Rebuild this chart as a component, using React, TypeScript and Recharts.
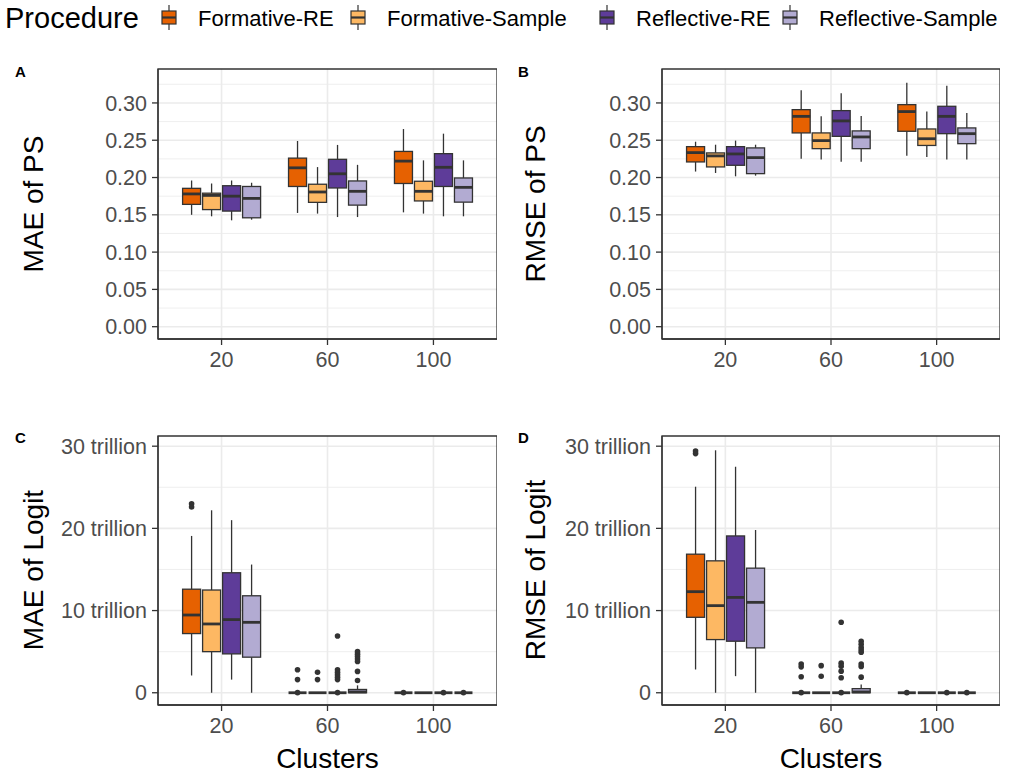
import React from "react";
import { ComposedChart, Bar, XAxis, YAxis, CartesianGrid, ReferenceArea } from "recharts";

const clusters = ["20", "60", "100"];
const clusterPositions = [1, 2, 3];
const procedures = ["Formative-RE", "Formative-Sample", "Reflective-RE", "Reflective-Sample"];
const colors = ["#E66101", "#FDB863", "#5E3C99", "#B2ABD2"];

// box stats per cluster (20, 60, 100): [lowerWhisker, q1, median, q3, upperWhisker]
const maePsFormativeRE = [[0.150, 0.164, 0.178, 0.1855, 0.196], [0.1525, 0.188, 0.213, 0.226, 0.249], [0.1533, 0.192, 0.222, 0.235, 0.265]];
const maePsFormativeSample = [[0.148, 0.157, 0.176, 0.179, 0.192], [0.1516, 0.1667, 0.1806, 0.191, 0.214], [0.1516, 0.1686, 0.1815, 0.195, 0.223]];
const maePsReflectiveRE = [[0.1426, 0.155, 0.175, 0.189, 0.196], [0.147, 0.186, 0.205, 0.2244, 0.2437], [0.148, 0.188, 0.2137, 0.232, 0.2588]];
const maePsReflectiveSample = [[0.1435, 0.146, 0.172, 0.188, 0.193], [0.147, 0.163, 0.1815, 0.1954, 0.217], [0.148, 0.167, 0.1868, 0.1994, 0.223]];

const rmsePsFormativeRE = [[0.208, 0.2209, 0.2334, 0.2414, 0.248], [0.2253, 0.2598, 0.282, 0.291, 0.317], [0.2293, 0.262, 0.2884, 0.2977, 0.327]];
const rmsePsFormativeSample = [[0.2061, 0.2142, 0.229, 0.233, 0.244], [0.224, 0.2387, 0.2495, 0.2598, 0.282], [0.2276, 0.243, 0.252, 0.2651, 0.2884]];
const rmsePsReflectiveRE = [[0.2016, 0.2164, 0.2316, 0.2414, 0.2495], [0.221, 0.2552, 0.2759, 0.2897, 0.313], [0.224, 0.2588, 0.282, 0.2955, 0.323]];
const rmsePsReflectiveSample = [[0.2025, 0.2052, 0.2267, 0.2397, 0.244], [0.221, 0.2387, 0.2544, 0.2625, 0.2826], [0.224, 0.2454, 0.2588, 0.2665, 0.2866]];

// logit values in trillions
const maeLogitFormativeRE = [[2.1, 7.2, 9.46, 12.6, 19.08], [0, 0, 0, 0, 0], [0, 0, 0, 0, 0]];
const maeLogitFormativeSample = [[0, 5.0, 8.37, 12.5, 22.2], [0, 0, 0, 0, 0], [0, 0, 0, 0, 0]];
const maeLogitReflectiveRE = [[1.6, 4.73, 8.9, 14.6, 21.0], [0, 0, 0, 0, 0], [0, 0, 0, 0, 0]];
const maeLogitReflectiveSample = [[0, 4.33, 8.57, 11.8, 15.6], [0, 0, 0.1, 0.4, 0.9], [0, 0, 0, 0, 0]];

const maeLogitOutFormativeRE = [[23.0, 22.6], [2.8, 1.6, 0.01], [0.01]];
const maeLogitOutFormativeSample = [[], [2.5, 1.6], []];
const maeLogitOutReflectiveRE = [[], [6.9, 2.8, 2.5, 2.2, 1.9, 1.6, 0.01], [0.01]];
const maeLogitOutReflectiveSample = [[], [5.0, 4.7, 4.4, 4.1, 3.8, 2.6, 1.5], [0.01]];

const rmseLogitFormativeRE = [[2.83, 9.18, 12.3, 16.86, 25.07], [0, 0, 0, 0, 0], [0, 0, 0, 0, 0]];
const rmseLogitFormativeSample = [[0, 6.47, 10.6, 16.05, 29.5], [0, 0, 0, 0, 0], [0, 0, 0, 0, 0]];
const rmseLogitReflectiveRE = [[2.02, 6.27, 11.6, 19.08, 27.5], [0, 0, 0, 0, 0], [0, 0, 0, 0, 0]];
const rmseLogitReflectiveSample = [[0, 5.46, 11.0, 15.16, 19.8], [0, 0, 0.1, 0.5, 1.0], [0, 0, 0, 0, 0]];

const rmseLogitOutFormativeRE = [[29.4, 29.1], [3.5, 3.15, 1.94, 0.01], [0.01]];
const rmseLogitOutFormativeSample = [[], [3.3, 2.0], []];
const rmseLogitOutReflectiveRE = [[], [8.57, 3.6, 3.24, 2.63, 1.82, 0.01], [0.01]];
const rmseLogitOutReflectiveSample = [[], [6.27, 5.9, 5.5, 5.2, 4.93, 3.5, 3.2, 1.9], [0.01]];

const psTicks = [0, 0.05, 0.1, 0.15, 0.2, 0.25, 0.3];
const psMinor = [0.025, 0.075, 0.125, 0.175, 0.225, 0.275, 0.325];
const logitTicks = [0, 10, 20, 30];
const logitMinor = [5, 15, 25];
const psDomain = [-0.0165, 0.3455];
const logitDomain = [-1.49, 31.24];
const xDomain = [0.4, 3.6];

const FONT = "'Liberation Sans', Arial, Helvetica, sans-serif";
const DARK = "#333333";

function buildRows(boxes: number[][][], outliers: number[][][]) {
  return clusters.map((c, i) => {
    const row: any = { cluster: c, pos: clusterPositions[i], boxes: [], outliers: [], ranges: [] };
    boxes.forEach((b, k) => {
      const s = b[i];
      const o = outliers[k] ? outliers[k][i] : [];
      const all = [...s, ...o];
      row.boxes.push(s);
      row.outliers.push(o);
      row.ranges.push([Math.min(...all), Math.max(...all)]);
    });
    return row;
  });
}

const makeShape = (k: number) => (props: any) => {
  const { x, y, width, height, payload } = props;
  if (!payload) return <g />;
  const s = payload.boxes[k];
  const o: number[] = payload.outliers[k];
  const [lo, hi] = payload.ranges[k];
  const pix = (v: number) => (hi === lo ? y : y + (height * (hi - v)) / (hi - lo));
  const cx = x + width / 2;
  const [wl, q1, med, q3, wh] = s;
  return (
    <g>
      <line x1={cx} x2={cx} y1={pix(wh)} y2={pix(q3)} stroke={DARK} strokeWidth={1.3} />
      <line x1={cx} x2={cx} y1={pix(q1)} y2={pix(wl)} stroke={DARK} strokeWidth={1.3} />
      <rect x={x} y={pix(q3)} width={width} height={Math.max(0, pix(q1) - pix(q3))} fill={colors[k]} stroke={DARK} strokeWidth={1.3} />
      <line x1={x} x2={x + width} y1={pix(med)} y2={pix(med)} stroke={DARK} strokeWidth={2.8} />
      {o.map((v, j) => (
        <circle key={j} cx={cx} cy={pix(v)} r={2.8} fill={DARK} />
      ))}
    </g>
  );
};

const tickStyle = { fill: "#4D4D4D", fontSize: 21.5, fontFamily: FONT };

function Panel(props: {
  rows: any[];
  left: number;
  top: number;
  width: number;
  height: number;
  marginTop: number;
  domain: number[];
  ticks: number[];
  minor: number[];
  fmt: (v: number) => string;
}) {
  const { rows, left, top, width, height, marginTop, domain, ticks, minor, fmt } = props;
  return (
    <div style={{ position: "absolute", left, top, width, height }}>
      <ComposedChart
        width={width}
        height={height}
        data={rows}
        margin={{ top: marginTop, right: 0, bottom: 0, left: 0 }}
        barGap={2}
        barSize={18}
      >
        <CartesianGrid horizontalValues={minor} vertical={false} stroke="#EBEBEB" strokeWidth={0.8} />
        <CartesianGrid horizontalValues={ticks} verticalValues={clusterPositions} stroke="#EBEBEB" strokeWidth={1.6} />
        <XAxis
          dataKey="pos"
          type="number"
          domain={xDomain}
          ticks={clusterPositions}
          allowDataOverflow
          tickFormatter={(v: number) => clusters[clusterPositions.indexOf(v)]}
          height={41}
          tick={tickStyle}
          tickSize={6}
          tickMargin={7}
          axisLine={{ stroke: DARK, strokeWidth: 1.3 }}
          tickLine={{ stroke: DARK, strokeWidth: 1.3 }}
          interval={0}
        />
        <YAxis
          type="number"
          domain={domain}
          ticks={ticks}
          allowDataOverflow
          width={158}
          tick={tickStyle}
          tickFormatter={fmt}
          tickSize={6}
          tickMargin={5}
          axisLine={{ stroke: DARK, strokeWidth: 1.3 }}
          tickLine={{ stroke: DARK, strokeWidth: 1.3 }}
          interval={0}
        />
        {procedures.map((p, k) => (
          <Bar
            key={p}
            name={p}
            dataKey={(r: any) => r.ranges[k]}
            fill={colors[k]}
            isAnimationActive={false}
            shape={makeShape(k)}
          />
        ))}
        <ReferenceArea
          x1={xDomain[0]}
          x2={xDomain[1]}
          y1={domain[0]}
          y2={domain[1]}
          fill="none"
          fillOpacity={0}
          stroke={DARK}
          strokeWidth={1.3}
          ifOverflow="visible"
        />
      </ComposedChart>
    </div>
  );
}

const psFmt = (v: number) => v.toFixed(2);
const logitFmt = (v: number) => (v === 0 ? "0" : `${v} trillion`);

const rowsA = buildRows([maePsFormativeRE, maePsFormativeSample, maePsReflectiveRE, maePsReflectiveSample], []);
const rowsB = buildRows([rmsePsFormativeRE, rmsePsFormativeSample, rmsePsReflectiveRE, rmsePsReflectiveSample], []);
const rowsC = buildRows(
  [maeLogitFormativeRE, maeLogitFormativeSample, maeLogitReflectiveRE, maeLogitReflectiveSample],
  [maeLogitOutFormativeRE, maeLogitOutFormativeSample, maeLogitOutReflectiveRE, maeLogitOutReflectiveSample]
);
const rowsD = buildRows(
  [rmseLogitFormativeRE, rmseLogitFormativeSample, rmseLogitReflectiveRE, rmseLogitReflectiveSample],
  [rmseLogitOutFormativeRE, rmseLogitOutFormativeSample, rmseLogitOutReflectiveRE, rmseLogitOutReflectiveSample]
);

const legendKeys = [169, 358, 607, 790];

function LegendKey({ cx, color }: { cx: number; color: string }) {
  return (
    <g>
      <line x1={cx} x2={cx} y1={5} y2={30} stroke={DARK} strokeWidth={1.2} />
      <rect x={cx - 7} y={11} width={14} height={13} fill={color} stroke={DARK} strokeWidth={1.2} />
      <line x1={cx - 7} x2={cx + 7} y1={17.5} y2={17.5} stroke={DARK} strokeWidth={2.2} />
    </g>
  );
}

export default function App() {
  return (
    <div style={{ position: "absolute", left: 0, top: 0, width: 1009, height: 774, background: "#fff", fontFamily: FONT }}>
      <Panel rows={rowsA} left={0} top={0} width={497} height={380} marginTop={69} domain={psDomain} ticks={psTicks} minor={psMinor} fmt={psFmt} />
      <Panel rows={rowsB} left={504} top={0} width={496} height={380} marginTop={69} domain={psDomain} ticks={psTicks} minor={psMinor} fmt={psFmt} />
      <Panel rows={rowsC} left={0} top={380} width={497} height={366} marginTop={56} domain={logitDomain} ticks={logitTicks} minor={logitMinor} fmt={logitFmt} />
      <Panel rows={rowsD} left={504} top={380} width={496} height={366} marginTop={56} domain={logitDomain} ticks={logitTicks} minor={logitMinor} fmt={logitFmt} />
      <svg width={1009} height={774} style={{ position: "absolute", left: 0, top: 0, pointerEvents: "none" }}>
        <text x={5} y={28} fontSize={29} fill="#000" fontFamily={FONT}>Procedure</text>
        {procedures.map((p, k) => (
          <g key={p}>
            <LegendKey cx={legendKeys[k]} color={colors[k]} />
            <text x={legendKeys[k] + 29} y={25.5} fontSize={22} fill="#000" fontFamily={FONT}>{p}</text>
          </g>
        ))}
        <text x={15} y={77} fontSize={15} fontWeight="bold" fontFamily={FONT}>A</text>
        <text x={518} y={77} fontSize={15} fontWeight="bold" fontFamily={FONT}>B</text>
        <text x={15} y={443} fontSize={15} fontWeight="bold" fontFamily={FONT}>C</text>
        <text x={518} y={443} fontSize={15} fontWeight="bold" fontFamily={FONT}>D</text>
        <text transform="translate(43,204) rotate(-90)" textAnchor="middle" fontSize={28} fontFamily={FONT}>MAE of PS</text>
        <text transform="translate(545,204) rotate(-90)" textAnchor="middle" fontSize={28} fontFamily={FONT}>RMSE of PS</text>
        <text transform="translate(43,570) rotate(-90)" textAnchor="middle" fontSize={28} fontFamily={FONT}>MAE of Logit</text>
        <text transform="translate(545,570) rotate(-90)" textAnchor="middle" fontSize={28} fontFamily={FONT}>RMSE of Logit</text>
        <text x={327.5} y={768} textAnchor="middle" fontSize={28} fontFamily={FONT}>Clusters</text>
        <text x={831} y={768} textAnchor="middle" fontSize={28} fontFamily={FONT}>Clusters</text>
      </svg>
    </div>
  );
}
